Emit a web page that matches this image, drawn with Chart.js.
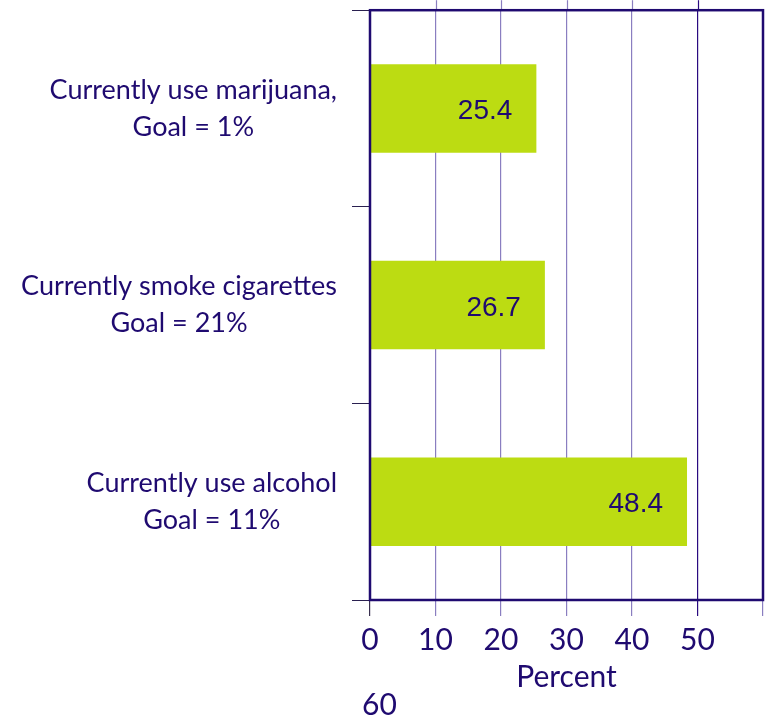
<!DOCTYPE html>
<html>
<head>
<meta charset="utf-8">
<script src="https://cdn.jsdelivr.net/npm/chart.js@4.4.1/dist/chart.umd.min.js"></script>
<style>
  html, body { margin: 0; padding: 0; background: #ffffff; }
  #wrap { width: 765px; height: 717px; }
</style>
</head>
<body>
<div id="wrap"><canvas id="c" width="765" height="717"></canvas></div>
<script>
const categories = [
  ["Currently use marijuana,", "Goal = 1%"],
  ["Currently smoke cigarettes", "Goal = 21%"],
  ["Currently use alcohol", "Goal = 11%"]
];
const values = [25.4, 26.7, 48.4];
const xTickValues = [0, 10, 20, 30, 40, 50, 60];
const axisTitle = "Percent";

const NAVY = "#1f0a70";
const GRID_LIGHT = "#8a7ec0";
const GRID_DARK = "#2a0a80";
const BAR = "#bcdc12";

function gridColor(ctx) {
  const v = ctx.tick ? ctx.tick.value : null;
  if (v === 50) return GRID_DARK;
  if (v === 0) return "#3a3050";
  return GRID_LIGHT;
}

const decorPlugin = {
  id: "decor",
  afterDatasetsDraw(chart) {
    const { ctx, chartArea: a, scales } = chart;
    const x = scales.x, y = scales.y;
    ctx.save();
    // tick extensions above the plot
    xTickValues.forEach(v => {
      if (v === 0 || v === 60) return;
      const px = Math.round(x.getPixelForValue(v)) + 0.5;
      ctx.strokeStyle = v === 50 ? GRID_DARK : GRID_LIGHT;
      ctx.lineWidth = 1.2;
      ctx.beginPath();
      ctx.moveTo(px, a.top - 10);
      ctx.lineTo(px, a.top);
      ctx.stroke();
    });
    // frame
    ctx.strokeStyle = NAVY;
    ctx.lineWidth = 2.5;
    ctx.strokeRect(a.left, a.top, a.right - a.left, a.bottom - a.top);
    // value labels
    const meta = chart.getDatasetMeta(0);
    ctx.fillStyle = NAVY;
    ctx.font = "28px 'Liberation Sans Narrow', 'Liberation Sans', sans-serif";
    ctx.textAlign = "right";
    ctx.textBaseline = "middle";
    meta.data.forEach((bar, i) => {
      ctx.fillText(values[i].toFixed(1), bar.x - 24, bar.y + 3);
    });
    // category labels (lines centred in a right-aligned block)
    ctx.font = "27px Lato, 'Open Sans', sans-serif";
    ctx.textAlign = "center";
    const right = a.left - 33;
    const lh = 37;
    categories.forEach((lines, i) => {
      const cy = y.getPixelForValue(i);
      const w = Math.max(...lines.map(l => ctx.measureText(l).width));
      const cx = right - w / 2;
      const start = cy - (lines.length - 1) * lh / 2;
      lines.forEach((l, j) => ctx.fillText(l, cx, start + j * lh));
    });
    // wrapped last tick label
    ctx.font = "30px Lato, 'Open Sans', sans-serif";
    ctx.textAlign = "left";
    ctx.fillText(String(xTickValues[xTickValues.length - 1]), a.left - 8, 705);
    ctx.restore();
  }
};

new Chart(document.getElementById("c"), {
  type: "bar",
  data: {
    labels: categories,
    datasets: [{
      data: values,
      backgroundColor: BAR,
      borderWidth: 0,
      categoryPercentage: 1,
      barPercentage: 0.45
    }]
  },
  options: {
    indexAxis: "y",
    responsive: false,
    animation: false,
    layout: { padding: { top: 10, right: 2, left: 0, bottom: 0 } },
    plugins: { legend: { display: false }, tooltip: { enabled: false } },
    scales: {
      x: {
        min: 0,
        max: 60,
        afterBuildTicks(s) { s.ticks = xTickValues.map(v => ({ value: v })); },
        afterFit(s) { s.height = 117; s.paddingRight = 0; s.paddingLeft = 0; },
        border: { display: false },
        grid: { color: gridColor, tickColor: gridColor, lineWidth: 1.2, tickLength: 16 },
        ticks: {
          autoSkip: false,
          maxRotation: 0,
          padding: 6,
          color: NAVY,
          font: { family: "Lato, 'Open Sans', sans-serif", size: 30 },
          callback: v => (v === 60 ? "" : String(v))
        },
        title: {
          display: true,
          text: axisTitle,
          color: NAVY,
          font: { family: "Lato, 'Open Sans', sans-serif", size: 30 },
          padding: { top: 0, bottom: 22 }
        }
      },
      y: {
        afterFit(s) { s.width = 370; },
        border: { display: false },
        grid: { drawOnChartArea: false, color: "#2a2050", tickColor: "#2a2050", tickLength: 18, lineWidth: 1, offset: true },
        ticks: { callback: () => "" }
      }
    }
  },
  plugins: [decorPlugin]
});
</script>
</body>
</html>
